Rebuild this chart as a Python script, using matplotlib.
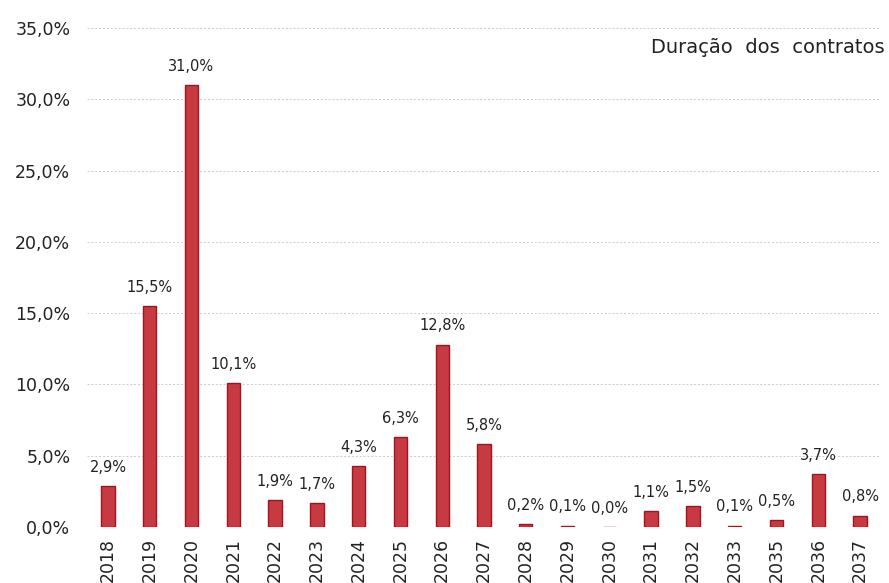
import matplotlib.pyplot as plt
from matplotlib.ticker import FuncFormatter

# Data
years = ["2018", "2019", "2020", "2021", "2022", "2023", "2024", "2025", "2026", "2027",
         "2028", "2029", "2030", "2031", "2032", "2033", "2035", "2036", "2037"]
shares = [2.9, 15.5, 31.0, 10.1, 1.9, 1.7, 4.3, 6.3, 12.8, 5.8,
          0.2, 0.1, 0.0, 1.1, 1.5, 0.1, 0.5, 3.7, 0.8]
title = "Duração dos contratos"

fig = plt.figure(figsize=(8.89, 5.83), dpi=100)
ax = fig.add_axes([87 / 889, 56 / 583, 794 / 889, 499 / 583])

x = range(len(years))
bars = ax.bar(x, shares, width=0.32, color="#C63A42", edgecolor="#A8101E", linewidth=1.0, zorder=3)

for bar, v in zip(bars, shares):
    ax.annotate(f"{v:.1f}%".replace(".", ","),
                xy=(bar.get_x() + bar.get_width() / 2, v),
                xytext=(0, 8), textcoords="offset points",
                ha="center", va="bottom", fontsize=10.5, color="#222222")

ax.set_xlim(-0.5, len(years) - 0.5)
ax.set_ylim(0, 35)
ax.set_yticks(range(0, 36, 5))
ax.yaxis.set_major_formatter(FuncFormatter(lambda v, p: f"{v:.1f}%".replace(".", ",")))
ax.set_xticks(list(x))
ax.set_xticklabels(years, rotation=90)

ax.tick_params(axis="y", length=0, pad=12, labelsize=12.5, labelcolor="#222222")
ax.tick_params(axis="x", length=0, pad=8, labelsize=12.5, labelcolor="#222222")
ax.grid(axis="y", color="#cccccc", linestyle=(0, (2, 2)), linewidth=0.7, zorder=0)
for s in ax.spines.values():
    s.set_visible(False)

ax.text(1.005, 0.96, title.replace(" ", "  "), transform=ax.transAxes, ha="right", va="center",
        fontsize=14, color="#222222")

fig.savefig("out.png", dpi=100)
